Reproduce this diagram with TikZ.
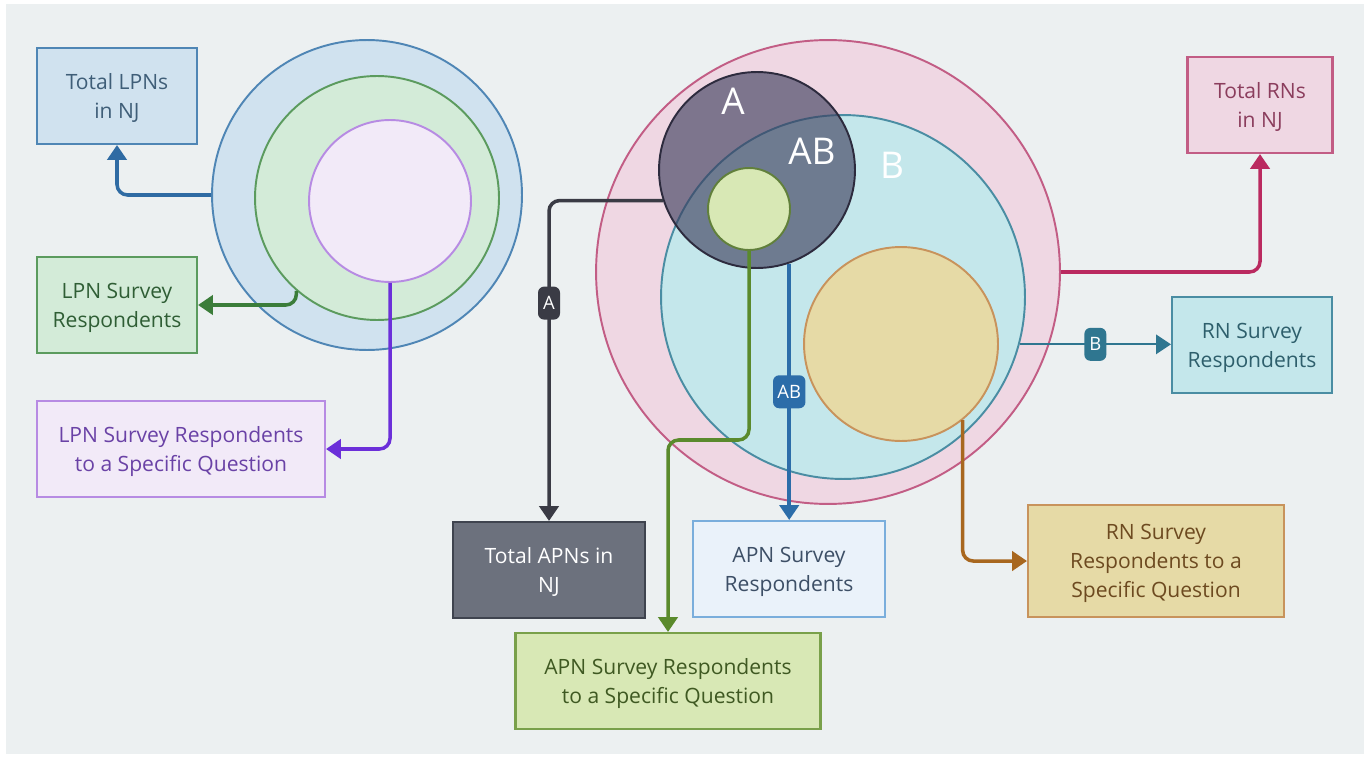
\documentclass[tikz,border=0pt]{standalone}
\usepackage{fontspec}
\setmainfont{Open Sans}
\usepackage{tikz}
\usetikzlibrary{arrows.meta, calc}

% colours
\definecolor{bggray}{HTML}{ECF0F1}
\definecolor{lpnfill}{HTML}{D0E2EF}\definecolor{lpndraw}{HTML}{4F86B5}\definecolor{lpnarrow}{HTML}{2F6BA3}\definecolor{lpntext}{HTML}{3F5E78}
\definecolor{lsfill}{HTML}{D3EBD8}\definecolor{lsdraw}{HTML}{5B9B5E}\definecolor{lsarrow}{HTML}{3B7D3A}\definecolor{lstext}{HTML}{2F5E35}
\definecolor{lqfill}{HTML}{F2EAF8}\definecolor{lqdraw}{HTML}{B78BE3}\definecolor{lqarrow}{HTML}{6B2FD9}\definecolor{lqtext}{HTML}{6A42A6}
\definecolor{rnfill}{HTML}{EFD7E3}\definecolor{rndraw}{HTML}{C25D85}\definecolor{rnarrow}{HTML}{BA2A60}\definecolor{rntext}{HTML}{8B3D5D}
\definecolor{rsfill}{HTML}{C4E7EB}\definecolor{rsdraw}{HTML}{4A8DA3}\definecolor{rsarrow}{HTML}{2F7690}\definecolor{rstext}{HTML}{2E5F6C}
\definecolor{rqfill}{HTML}{E6DAA6}\definecolor{rqdraw}{HTML}{C8935C}\definecolor{rqarrow}{HTML}{A8671F}\definecolor{rqtext}{HTML}{6D4A20}
\definecolor{apfill}{HTML}{6C717D}\definecolor{apdraw}{HTML}{3F444F}\definecolor{aparrow}{HTML}{3A3B45}
\definecolor{asfill}{HTML}{EAF2FA}\definecolor{asdraw}{HTML}{7AAEDC}\definecolor{asarrow}{HTML}{2C6DA9}\definecolor{astext}{HTML}{3D4F66}
\definecolor{aqfill}{HTML}{D8E8B5}\definecolor{aqdraw}{HTML}{79A04A}\definecolor{aqarrow}{HTML}{5A8A2C}\definecolor{aqtext}{HTML}{3F5922}
\definecolor{afill}{HTML}{3C3C5C}\definecolor{adraw}{HTML}{2D2B3E}

\begin{document}
\begin{tikzpicture}[x=0.02cm, y=-0.02cm, >={Triangle[width=11pt,length=8.5pt]},
    box/.style={rectangle, draw, line width=1.2pt, align=center, text depth=0pt, minimum height=1.92cm, font=\fontsize{12}{16.4}\selectfont},
    set/.style={circle, draw, line width=1.1pt, inner sep=0pt},
    link/.style={->, line width=2pt, rounded corners=6pt},
    chip/.style={rectangle, rounded corners=3.5pt, text=white, inner sep=2.5pt, minimum height=0.66cm, minimum width=0.44cm, font=\fontsize{10.5}{11}\selectfont}]

    % background
    \useasboundingbox (0,0) rectangle (1364,757);
    \fill[white] (0,0) rectangle (1364,757);
    \fill[bggray] (6,4) rectangle (1364,754);

    % LPN sets
    \node[set, fill=lpnfill, draw=lpndraw, minimum size=6.2cm]  (lpnall)  at (367,195) {};
    \node[set, fill=lsfill, draw=lsdraw, minimum size=4.88cm]   (lpnresp) at (377,198) {};
    \node[set, fill=lqfill, draw=lqdraw, minimum size=3.24cm]   (lpnq)    at (390,201) {};

    % RN and APN sets
    \node[set, fill=rnfill, draw=rndraw, minimum size=9.28cm]   (rnall)   at (828,272) {};
    \node[set, fill=rsfill, draw=rsdraw, minimum size=7.28cm]   (rnresp)  at (843,297) {};
    \node[set, fill=afill, fill opacity=0.63, draw=adraw, minimum size=3.92cm] (apnall) at (757,170) {};
    \node[set, fill=aqfill, draw=aqdraw!80!black, minimum size=1.64cm] (apnq) at (749,209) {};
    \node[set, fill=rqfill, draw=rqdraw, minimum size=3.88cm]   (rnq)     at (901,344) {};

    % set letters
    \node[text=white, font=\fontsize{21}{21}\selectfont] (la)  at (733,101) {A};
    \node[text=white, font=\fontsize{21}{21}\selectfont] (lab) at (812,151) {AB};
    \node[text=white, font=\fontsize{21}{21}\selectfont] (lb)  at (892,165) {B};

    % boxes on the left
    \node[box, fill=lpnfill, draw=lpndraw, text=lpntext, minimum width=3.2cm] (totlpn) at (117,96) {Total LPNs\\in NJ};
    \node[box, fill=lsfill, draw=lsdraw, text=lstext, minimum width=3.2cm] (lpnsurv) at (117,305) {LPN Survey\\Respondents};
    \node[box, fill=lqfill, draw=lqdraw, text=lqtext, minimum width=5.76cm] (lpnspec) at (181,449) {LPN Survey Respondents\\to a Specific Question};

    % boxes at the bottom and on the right
    \node[box, fill=apfill, draw=apdraw, text=white, minimum width=3.84cm] (totapn) at (549,570) {Total APNs in\\NJ};
    \node[box, fill=asfill, draw=asdraw, text=astext, minimum width=3.84cm] (apnsurv) at (789,569) {APN Survey\\Respondents};
    \node[box, fill=aqfill, draw=aqdraw, text=aqtext, minimum width=6.1cm] (apnspec) at (668,681) {APN Survey Respondents\\to a Specific Question};
    \node[box, fill=rnfill, draw=rndraw, text=rntext, minimum width=2.9cm] (totrn) at (1260,105) {Total RNs\\in NJ};
    \node[box, fill=rsfill, draw=rsdraw, text=rstext, minimum width=3.2cm] (rnsurv) at (1252,345) {RN Survey\\Respondents};
    \node[box, fill=rqfill, draw=rqdraw, text=rqtext, minimum width=5.12cm, minimum height=2.24cm] (rnspec) at (1156,561) {RN Survey\\Respondents to a\\Specific Question};

    % LPN arrows
    \draw[link, lpnarrow] (lpnall.west) -| (totlpn.south);
    \draw[link, lsarrow] (lpnresp.229) |- (lpnsurv.east);
    \draw[link, lqarrow] (lpnq.south) |- (lpnspec.east);

    % APN arrows
    \draw[link, aparrow] (apnall.198) -| (totapn.north)
        node[chip, fill=aparrow, pos=0.66] {A};
    \coordinate (gbend) at (749,440);
    \draw[link, aqarrow] (apnq.south) -- (gbend) -| (apnspec.north);
    \draw[link, asarrow] (apnall.-71) -- (apnall.-71 |- apnsurv.north)
        node[chip, fill=asarrow, midway] {AB};

    % RN arrows
    \draw[link, rnarrow] (rnall.east) -| (totrn.south);
    \draw[link, rsarrow, line width=1.3pt] (rnresp.-15) -- (rnresp.-15 -| rnsurv.west)
        node[chip, fill=rsarrow, midway] {B};
    \draw[link, rqarrow] (rnq.-51) |- (rnspec.west);
\end{tikzpicture}
\end{document}
